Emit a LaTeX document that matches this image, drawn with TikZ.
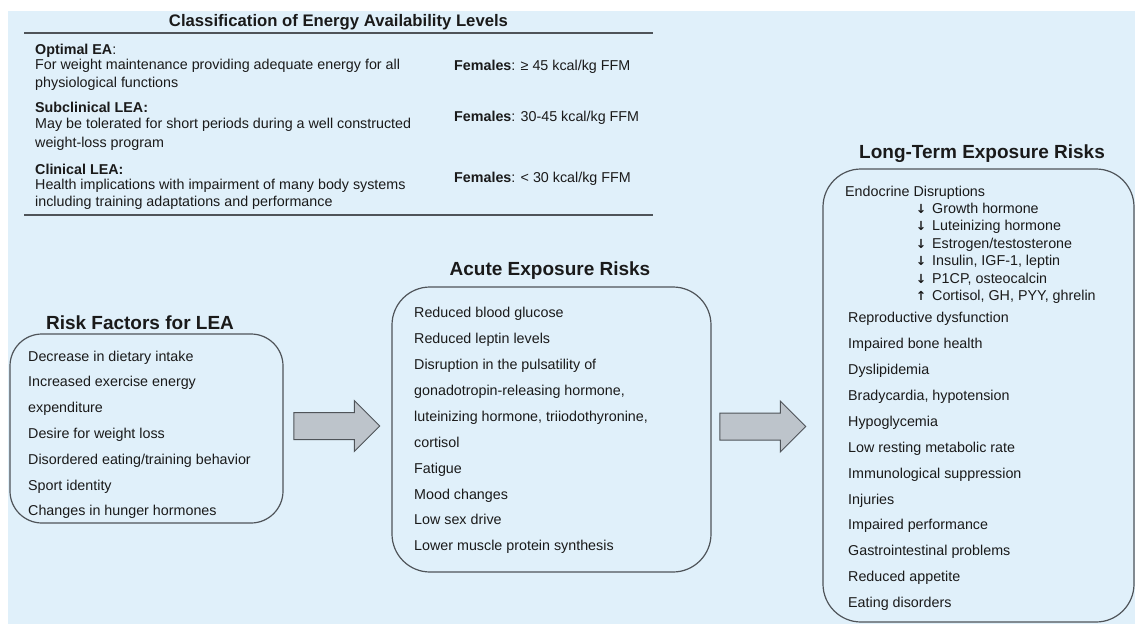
\documentclass[tikz,border=0pt]{standalone}
\usepackage{fontspec}
\setmainfont{Liberation Sans}
\newfontfamily\symfont{DejaVu Sans}
\usetikzlibrary{shapes.arrows, positioning, calc}
\definecolor{bgblue}{HTML}{E0F0FA}
\definecolor{linegray}{HTML}{4F5459}
\definecolor{arrowgray}{HTML}{BDC4CB}
\definecolor{txtcol}{HTML}{1A1A1A}

\begin{document}
\begin{tikzpicture}[x=1pt, y=-1pt,
  box node/.style={draw=linegray, line width=1.2pt, rounded corners=32pt, inner sep=0pt},
  title node/.style={font=\fontsize{19}{22}\selectfont\bfseries, text=txtcol, inner sep=0pt, anchor=base},
  item node/.style={font=\fontsize{14.3}{17}\selectfont, text=txtcol, inner sep=0pt, anchor=base west},
  arw node/.style={font=\symfont\bfseries\fontsize{12.5}{14}\selectfont, text=txtcol, inner sep=0pt, anchor=base},
  big arrow/.style={single arrow, draw=linegray, fill=arrowgray, line width=1pt,
    minimum height=86pt, minimum width=0pt, single arrow head extend=12pt,
    single arrow head indent=0pt, inner xsep=0pt, inner ysep=13pt}]
  \useasboundingbox (0,0) rectangle (1135,624);
  \fill[white] (0,0) rectangle (1135,624);
  \fill[bgblue] (8,11) rectangle (1135,624);

  % classification table
  \node[title node, font=\fontsize{16.7}{20}\selectfont\bfseries] (cltitle) at (338.5,26) {Classification of Energy Availability Levels};
  \coordinate (tl) at (24,33);
  \coordinate (tr) at (653,33);
  \coordinate (bl) at (24,215);
  \coordinate (br) at (653,215);
  \draw[linegray, line width=2pt] (tl) -- (tr);
  \draw[linegray, line width=2pt] (bl) -- (br);
  \node[item node] (optA) at (35,54) {\textbf{Optimal EA}:};
  \node[item node] (optB) at (35,69.5) {For weight maintenance providing adequate energy for all};
  \node[item node] (optC) at (35,87) {physiological functions};
  \node[item node] (optF) at (454,70.5) {\textbf{Females}: ≥ 45 kcal/kg FFM};
  \node[item node] (subA) at (35,112.5) {\textbf{Subclinical LEA:}};
  \node[item node] (subB) at (35,128.5) {May be tolerated for short periods during a well constructed};
  \node[item node] (subC) at (35,147) {weight-loss program};
  \node[item node] (subF) at (454,121.5) {\textbf{Females}: 30-45 kcal/kg FFM};
  \node[item node] (clinA) at (35,174) {\textbf{Clinical LEA:}};
  \node[item node] (clinB) at (35,189.5) {Health implications with impairment of many body systems};
  \node[item node] (clinC) at (35,206.5) {including training adaptations and performance};
  \node[item node] (clinF) at (454,182) {\textbf{Females}: < 30 kcal/kg FFM};

  % risk factors
  \node[title node] (risktitle) at (140,329) {Risk Factors for LEA};
  \node[box node, minimum width=273pt, minimum height=189pt] (riskbox) at (146.5,428.5) {};
  \foreach \txt [count=\i] in {Decrease in dietary intake, Increased exercise energy,
      expenditure, Desire for weight loss, Disordered eating/training behavior,
      Sport identity, Changes in hunger hormones}
    \node[item node] (rf\i) at ({28},{361+25.8*(\i-1)}) {\txt};

  % acute risks
  \node[title node] (acutetitle) at (550,275) {Acute Exposure Risks};
  \node[box node, rounded corners=38pt, minimum width=319pt, minimum height=285pt] (acutebox) at (551.5,429.5) {};
  \foreach \txt [count=\i] in {Reduced blood glucose, Reduced leptin levels,
      Disruption in the pulsatility of, {gonadotropin-releasing hormone,},
      {luteinizing hormone, triiodothyronine,}, cortisol, Fatigue, Mood changes,
      Low sex drive, Lower muscle protein synthesis}
    \node[item node] (ac\i) at ({414},{317.7+25.9*(\i-1)}) {\txt};

  % long-term risks
  \node[title node] (longtitle) at (982,158.3) {Long-Term Exposure Risks};
  \node[box node, rounded corners=38pt, minimum width=311pt, minimum height=453pt] (longbox) at (978.5,395.5) {};
  \node[item node] (endo) at (845,196.7) {Endocrine Disruptions};
  \foreach \ar/\txt [count=\i] in {↓/Growth hormone, ↓/Luteinizing hormone,
      ↓/Estrogen\slash testosterone, ↓/{Insulin, IGF-1, leptin}, ↓/{P1CP, osteocalcin},
      ↑/{Cortisol, GH, PYY, ghrelin}}
  {
    \node[arw node] (ea\i) at ({921},{213.3+17.5*(\i-1)}) {\ar};
    \node[item node] (en\i) at ({932},{213.3+17.5*(\i-1)}) {\txt};
  }
  \foreach \txt [count=\i] in {Reproductive dysfunction, Impaired bone health,
      Dyslipidemia, {Bradycardia, hypotension}, Hypoglycemia,
      Low resting metabolic rate, Immunological suppression, Injuries,
      Impaired performance, Gastrointestinal problems, Reduced appetite,
      Eating disorders}
    \node[item node] (lt\i) at ({848},{322.7+25.9*(\i-1)}) {\txt};

  % block arrows
  \node[big arrow] (arrowA) at (330,426) {};
  \node[big arrow] (arrowB) at (756,426.5) {};
\end{tikzpicture}
\end{document}
